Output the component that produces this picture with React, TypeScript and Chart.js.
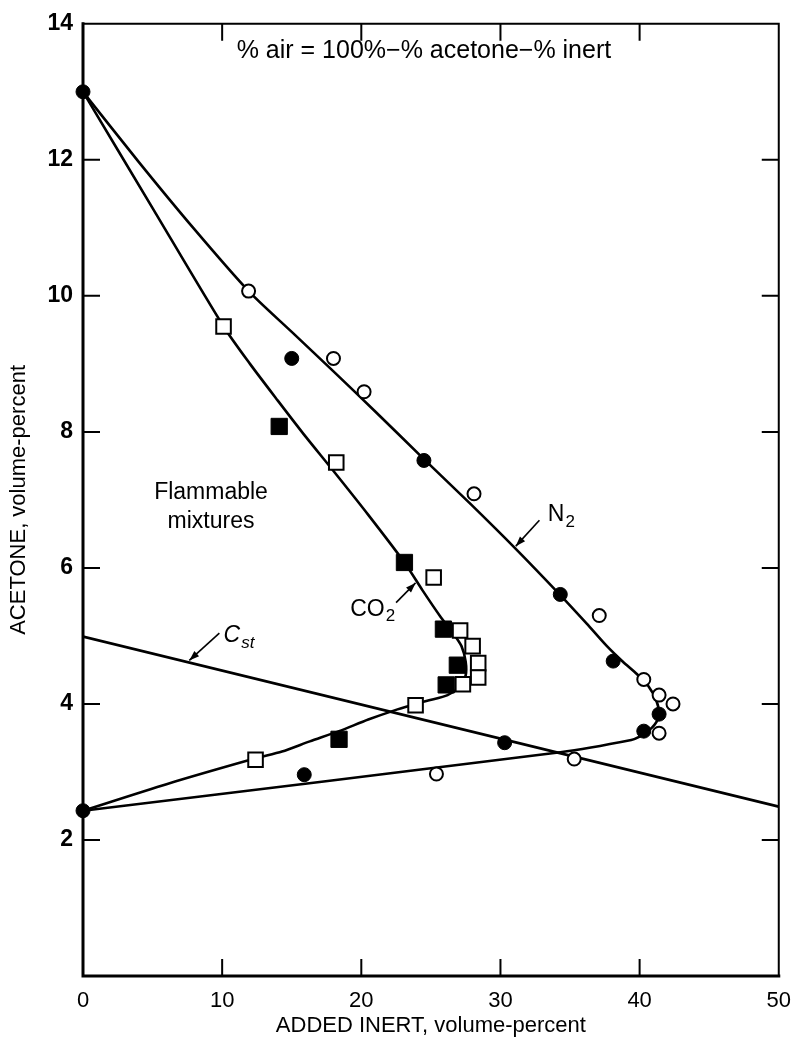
import React, { useEffect, useRef } from "react";
import { Chart, registerables } from "chart.js";

Chart.register(...registerables);

// ---- axis ticks ----
const xTicks = [0, 10, 20, 30, 40, 50];
const yTicks = [2, 4, 6, 8, 10, 12, 14];

// ---- measured points (added inert %, acetone %) ----
const n2Filled: [number, number][] = [
  [0, 13.0], [0, 2.43], [15.0, 9.08], [24.5, 7.58], [34.3, 5.61], [38.1, 4.63],
  [41.4, 3.85], [40.3, 3.6], [30.3, 3.43], [15.9, 2.96],
];
const n2Open: [number, number][] = [
  [11.9, 10.07], [18.0, 9.08], [20.2, 8.59], [28.1, 7.09], [37.1, 5.3], [40.3, 4.36],
  [41.4, 4.13], [42.4, 4.0], [41.4, 3.57], [35.3, 3.19], [25.4, 2.97],
];
const co2Filled: [number, number][] = [
  [14.1, 8.08], [23.1, 6.08], [25.9, 5.1], [26.9, 4.57], [26.1, 4.28], [18.4, 3.48],
];
const co2Open: [number, number][] = [
  [10.1, 9.55], [18.2, 7.55], [25.2, 5.86], [27.1, 5.08], [28.0, 4.85], [28.4, 4.6],
  [28.4, 4.39], [27.3, 4.29], [23.9, 3.98], [12.4, 3.18],
];

// ---- fitted flammability envelopes ----
const n2Curve: [number, number][] = [
  [0, 13.0], [4, 11.97], [8, 10.98], [11.9, 10.07], [15, 9.47], [18, 8.89], [21, 8.3],
  [24.5, 7.6], [27.9, 6.93], [31.1, 6.28], [34.3, 5.6], [36.2, 5.18], [37.6, 4.86],
  [38.8, 4.62], [39.8, 4.44], [40.6, 4.27], [41.2, 4.05], [41.4, 3.84], [41.1, 3.7],
  [40.6, 3.6], [40.0, 3.52], [39.4, 3.47], [34.3, 3.29], [0, 2.43],
];
const co2Curve: [number, number][] = [
  [0, 13.0], [5, 11.29], [10.1, 9.55], [12, 9.0], [14, 8.46],
  [16, 7.93], [17.9, 7.45], [20.5, 6.78], [23.1, 6.08], [24.4, 5.67], [25.7, 5.28],
  [26.6, 5.04], [27.2, 4.85], [27.5, 4.62], [27.5, 4.42], [27.1, 4.26], [26.2, 4.13],
  [24.8, 4.05], [23.9, 4.0], [22.6, 3.92], [20.5, 3.77], [18.4, 3.6], [16.3, 3.45],
  [14.3, 3.3], [12.4, 3.2], [6, 2.82], [0, 2.43],
];
const cstLine: [number, number][] = [[0, 4.99], [50, 2.49]];

const FONT = '"Liberation Sans", Arial, Helvetica, sans-serif';

const toXY = (arr: [number, number][]) => arr.map(([x, y]) => ({ x, y }));

// annotation anchor positions (data coords)
const notePos = { x: 24.5, y: 13.6 };
const flamPos = { x: 9.2, y1: 7.1, y2: 6.68 };
const n2LabelPos = { x: 33.4, y: 6.78 };
const n2Arrow = { x1: 32.8, y1: 6.7, x2: 31.1, y2: 6.32 };
const co2LabelPos = { x: 19.2, y: 5.39 };
const co2Arrow = { x1: 22.5, y1: 5.49, x2: 23.9, y2: 5.78 };
const cstLabelPos = { x: 10.1, y: 5.0 };
const cstArrow = { x1: 9.8, y1: 5.04, x2: 7.64, y2: 4.64 };

const framePlugin = {
  id: "frame",
  beforeDatasetsDraw(chart: any) {
    const { ctx, chartArea: a, scales } = chart;
    const xs = scales.x, ys = scales.y;
    ctx.save();
    ctx.strokeStyle = "#000";
    ctx.lineCap = "square";
    ctx.lineWidth = 3;
    ctx.beginPath();
    ctx.moveTo(a.left, a.top);
    ctx.lineTo(a.left, a.bottom);
    ctx.lineTo(a.right, a.bottom);
    ctx.stroke();
    ctx.lineWidth = 2;
    ctx.beginPath();
    ctx.moveTo(a.left, a.top);
    ctx.lineTo(a.right, a.top);
    ctx.lineTo(a.right, a.bottom);
    ctx.stroke();
    const tl = 17;
    ctx.lineWidth = 2;
    ctx.lineCap = "butt";
    xTicks.forEach((v) => {
      if (v === 0 || v === 50) return;
      const px = xs.getPixelForValue(v);
      ctx.beginPath();
      ctx.moveTo(px, a.bottom);
      ctx.lineTo(px, a.bottom - tl);
      ctx.moveTo(px, a.top);
      ctx.lineTo(px, a.top + tl);
      ctx.stroke();
    });
    yTicks.forEach((v) => {
      if (v === 14) return;
      const py = ys.getPixelForValue(v);
      ctx.beginPath();
      ctx.moveTo(a.left, py);
      ctx.lineTo(a.left + tl, py);
      ctx.moveTo(a.right, py);
      ctx.lineTo(a.right - tl, py);
      ctx.stroke();
    });
    ctx.restore();
  },
  afterDatasetsDraw(chart: any) {
    const { ctx, scales } = chart;
    const X = (v: number) => scales.x.getPixelForValue(v);
    const Y = (v: number) => scales.y.getPixelForValue(v);
    ctx.save();
    ctx.fillStyle = "#000";
    ctx.strokeStyle = "#000";
    ctx.textBaseline = "middle";

    // top note
    ctx.font = `25px ${FONT}`;
    ctx.textAlign = "center";
    ctx.fillText("% air = 100%\u2212% acetone\u2212% inert", X(notePos.x), Y(notePos.y));

    // flammable mixtures
    ctx.font = `23px ${FONT}`;
    ctx.fillText("Flammable", X(flamPos.x), Y(flamPos.y1));
    ctx.fillText("mixtures", X(flamPos.x), Y(flamPos.y2));

    ctx.textAlign = "left";
    const sub = (main: string, s: string, x: number, y: number, italic = false) => {
      ctx.font = `${italic ? "italic " : ""}23px ${FONT}`;
      ctx.fillText(main, x, y);
      const w = ctx.measureText(main).width;
      ctx.font = `${italic ? "italic " : ""}17px ${FONT}`;
      ctx.fillText(s, x + w + 1, y + 7);
    };
    sub("N", "2", X(n2LabelPos.x), Y(n2LabelPos.y));
    sub("CO", "2", X(co2LabelPos.x), Y(co2LabelPos.y));
    sub("C", "st", X(cstLabelPos.x), Y(cstLabelPos.y), true);

    const arrow = (o: any) => {
      const x1 = X(o.x1), y1 = Y(o.y1), x2 = X(o.x2), y2 = Y(o.y2);
      const ang = Math.atan2(y2 - y1, x2 - x1);
      ctx.lineWidth = 1.6;
      ctx.beginPath();
      ctx.moveTo(x1, y1);
      ctx.lineTo(x2, y2);
      ctx.stroke();
      const L = 10, W = 3.5;
      ctx.beginPath();
      ctx.moveTo(x2, y2);
      ctx.lineTo(x2 - L * Math.cos(ang) + W * Math.sin(ang), y2 - L * Math.sin(ang) - W * Math.cos(ang));
      ctx.lineTo(x2 - L * Math.cos(ang) - W * Math.sin(ang), y2 - L * Math.sin(ang) + W * Math.cos(ang));
      ctx.closePath();
      ctx.fill();
    };
    arrow(n2Arrow);
    arrow(co2Arrow);
    arrow(cstArrow);
    ctx.restore();
  },
};

export default function App() {
  const ref = useRef<HTMLCanvasElement>(null);
  useEffect(() => {
    if (!ref.current) return;
    const lineDs = (data: [number, number][], tension: number) => ({
      data: toXY(data),
      showLine: true,
      borderColor: "#000",
      borderWidth: 2.6,
      pointRadius: 0,
      tension,
      fill: false,
    });
    const chart = new Chart(ref.current, {
      type: "scatter",
      data: {
        datasets: [
          { data: toXY(n2Filled), pointStyle: "circle", pointRadius: 7, backgroundColor: "#000", borderColor: "#000", borderWidth: 1, clip: false } as any,
          { data: toXY(n2Open), pointStyle: "circle", pointRadius: 6.5, backgroundColor: "#fff", borderColor: "#000", borderWidth: 2, clip: false },
          { data: toXY(co2Filled), pointStyle: "rect", pointRadius: 11.5, backgroundColor: "#000", borderColor: "#000", borderWidth: 1, clip: false },
          { data: toXY(co2Open), pointStyle: "rect", pointRadius: 10.3, backgroundColor: "#fff", borderColor: "#000", borderWidth: 2, clip: false },
          lineDs(n2Curve, 0.25),
          lineDs(co2Curve, 0.25),
          lineDs(cstLine, 0),
        ],
      },
      options: {
        animation: false,
        responsive: false,
        events: [],
        layout: { padding: { left: 0, right: 20, top: 19, bottom: 0 } },
        plugins: { legend: { display: false }, tooltip: { enabled: false } },
        scales: {
          x: {
            type: "linear",
            min: 0,
            max: 50,
            afterFit: (s: any) => { s.height = 63; },
            afterBuildTicks: (s: any) => { s.ticks = xTicks.map((v) => ({ value: v })); },
            grid: { display: false, drawTicks: false },
            border: { display: false },
            ticks: { color: "#000", padding: 12, font: { family: FONT, size: 22 } },
            title: { display: true, text: "ADDED INERT, volume-percent", color: "#000", font: { family: FONT, size: 22 }, padding: { top: 0, bottom: 0 } },
          },
          y: {
            type: "linear",
            min: 0,
            max: 14,
            afterFit: (s: any) => { s.width = 83; },
            afterBuildTicks: (s: any) => { s.ticks = yTicks.map((v) => ({ value: v })); },
            grid: { display: false, drawTicks: false },
            border: { display: false },
            ticks: { color: "#000", padding: 10, font: { family: FONT, size: 23, weight: "bold" } },
            title: { display: true, text: "ACETONE, volume-percent", color: "#000", font: { family: FONT, size: 22 }, padding: { top: 6, bottom: 0 } },
          },
        },
      } as any,
      plugins: [framePlugin],
    });
    return () => chart.destroy();
  }, []);
  return (
    <div style={{ position: "absolute", left: 0, top: 0, width: 803, height: 1039, background: "#fff" }}>
      <canvas ref={ref} width={803} height={1039} style={{ display: "block" }} />
    </div>
  );
}
